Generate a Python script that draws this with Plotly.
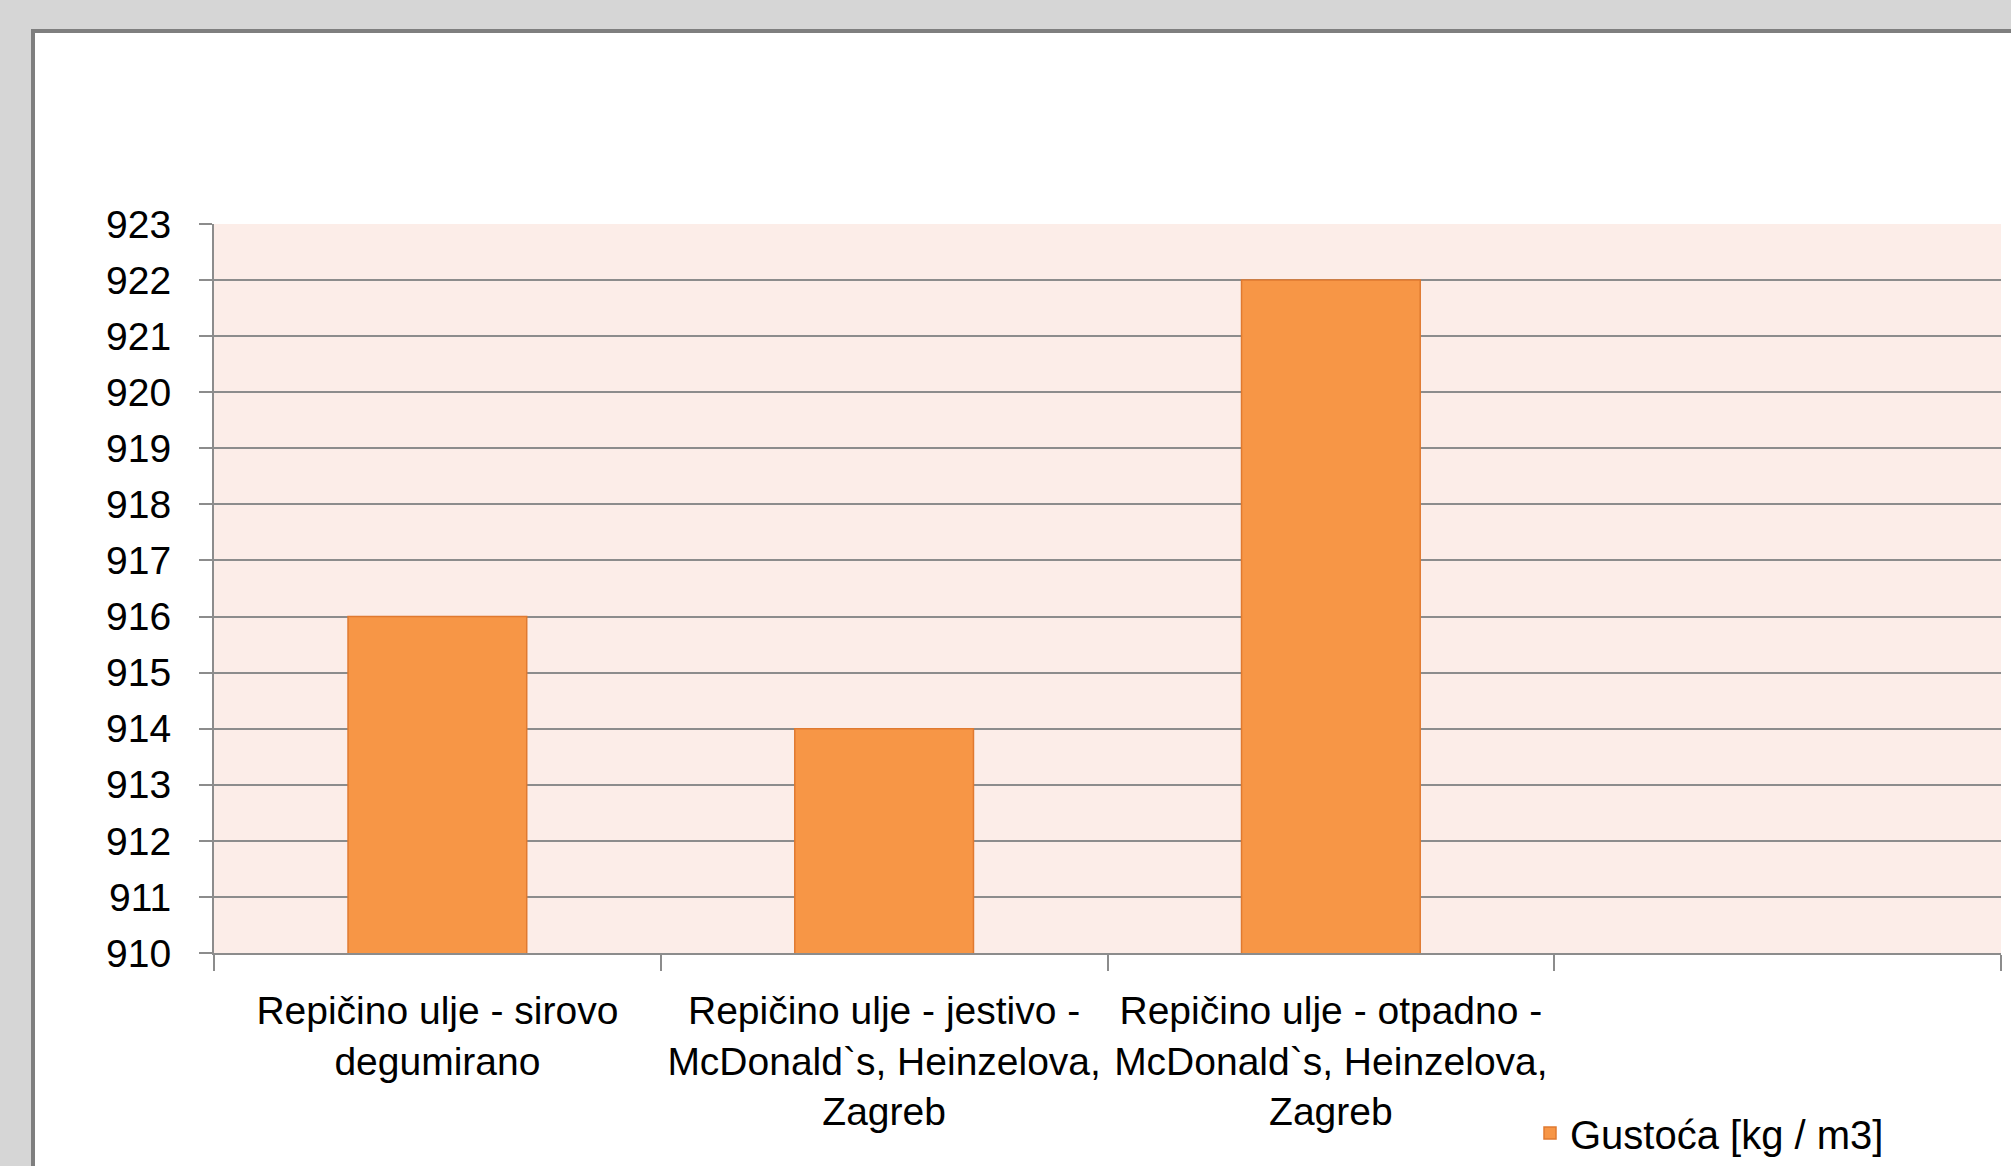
import plotly.graph_objects as go

categories = [
    "Repičino ulje - sirovo<br>degumirano",
    "Repičino ulje - jestivo -<br>McDonald`s, Heinzelova,<br>Zagreb",
    "Repičino ulje - otpadno -<br>McDonald`s, Heinzelova,<br>Zagreb",
    " ",
]
values = [916, 914, 922, None]
series_name = "Gustoća [kg / m3]"
y_ticks = list(range(910, 924))

FONT = "Liberation Sans Narrow, Arial Narrow, Liberation Sans, sans-serif"

W, H = 2011, 1166
L, R, T, B = 214, 10, 224, 213
pw, ph = W - L - R, H - T - B


def px_x(p):
    return (p - L) / pw


def px_y(p):
    return (H - B - p) / ph


fig = go.Figure()
fig.add_trace(go.Bar(
    x=categories, y=values, name=series_name,
    marker=dict(color="#F79646", line=dict(color="#E07A30", width=1.5)),
    showlegend=True,
))

fig.update_layout(
    width=W, height=H,
    margin=dict(l=L, r=R, t=T, b=B, autoexpand=False),
    paper_bgcolor="#D6D6D6",
    plot_bgcolor="rgba(0,0,0,0)",
    bargap=0.6,
    font=dict(family=FONT, size=40, color="#000000"),
    showlegend=True,
    legend=dict(
        x=px_x(1530), y=px_y(1133), xanchor="left", yanchor="middle",
        bgcolor="rgba(0,0,0,0)", font=dict(size=40, family=FONT),
        itemwidth=30,
    ),
    xaxis=dict(
        type="category", categoryorder="array", categoryarray=categories,
        tickson="boundaries", ticks="outside", ticklen=16, tickwidth=2, tickcolor="#8C8C8C",
        showline=True, linecolor="#8C8C8C", linewidth=2, showgrid=False,
        tickfont=dict(size=39, family=FONT), range=[-0.5, 3.5], tickangle=0,
        automargin=False, ticklabelstandoff=22,
    ),
    yaxis=dict(
        range=[910, 923], tickvals=y_ticks, ticks="outside", ticklen=13, tickwidth=2,
        tickcolor="#8C8C8C", showline=True, linecolor="#8C8C8C", linewidth=2,
        showgrid=True, gridcolor="#8C8C8C", gridwidth=2,
        tickfont=dict(size=39, family=FONT), zeroline=False,
        automargin=False, ticklabelstandoff=20,
    ),
    shapes=[
        dict(type="rect", xref="paper", yref="paper",
             x0=px_x(33), x1=px_x(2030), y0=px_y(31), y1=px_y(1200),
             fillcolor="#FFFFFF", line=dict(color="#7F7F7F", width=4), layer="below"),
        dict(type="rect", xref="paper", yref="paper",
             x0=0, x1=1, y0=0, y1=1,
             fillcolor="#FCEDE8", line=dict(width=0), layer="below"),
    ],
)

fig.write_html("out.html")
